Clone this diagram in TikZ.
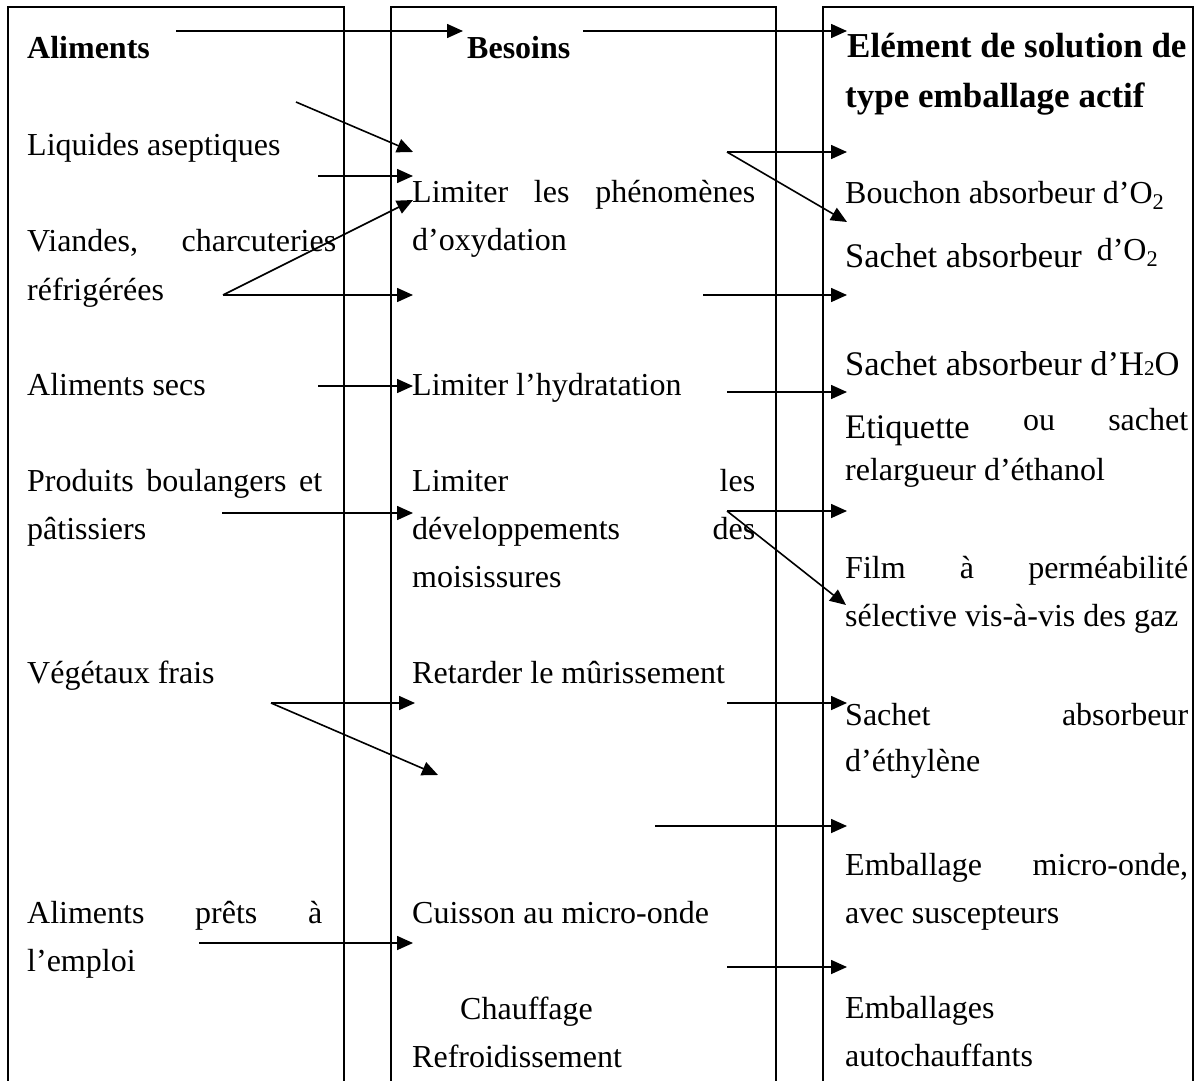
\documentclass[tikz,border=0pt]{standalone}
\usepackage{fontspec}
\setmainfont{Liberation Serif}
\usetikzlibrary{arrows.meta}
\begin{document}
\begin{tikzpicture}[x=1pt,y=-1pt,
  frame/.style={line width=1.8pt},
  link/.style={line width=1.6pt,-{Triangle[length=16pt,width=14pt]}},
  txt/.style={anchor=base west,inner sep=0pt,font=\fontsize{32}{38}\selectfont},
  bigtxt/.style={anchor=base west,inner sep=0pt,font=\fontsize{34.5}{40}\selectfont},
  head/.style={anchor=base west,inner sep=0pt,font=\fontsize{32}{38}\selectfont\bfseries},
  bighead/.style={anchor=base west,inner sep=0pt,font=\fontsize{35}{40}\selectfont\bfseries}]
\useasboundingbox (0,0) rectangle (1202,1081);

% three columns, open at the bottom
\draw[frame] (8,1081) -- (8,7) -- (344,7) -- (344,1081);
\draw[frame] (391,1081) -- (391,7) -- (776,7) -- (776,1081);
\draw[frame] (823,1081) -- (823,7) -- (1193,7) -- (1193,1081);

% column: foods
\node[head] (hAl) at (27,59) {Aliments};
\node[txt] (l1) at (27,155) {Liquides aseptiques};
\node[txt] (l2a) at (27,251) {\hbox to 309pt{Viandes,\hfill charcuteries}};
\node[txt] (l2b) at (27,300) {réfrigérées};
\node[txt] (l3) at (27,395) {Aliments secs};
\node[txt] (l4a) at (27,491) {\hbox to 295pt{Produits\hfill boulangers\hfill et}};
\node[txt] (l4b) at (27,539) {pâtissiers};
\node[txt] (l5) at (27,683) {Végétaux frais};
\node[txt] (l6a) at (27,923) {\hbox to 295pt{Aliments\hfill prêts\hfill à}};
\node[txt] (l6b) at (27,971) {l’emploi};

% column: needs
\node[head] (hBe) at (467,59) {Besoins};
\node[txt] (m1a) at (412,202) {\hbox to 343pt{Limiter\hfill les\hfill phénomènes}};
\node[txt] (m1b) at (412,250) {d’oxydation};
\node[txt] (m2) at (412,395) {Limiter l’hydratation};
\node[txt] (m3a) at (412,491) {\hbox to 343pt{Limiter\hfill les}};
\node[txt] (m3b) at (412,539) {\hbox to 343pt{développements\hfill des}};
\node[txt] (m3c) at (412,587) {moisissures};
\node[txt] (m4) at (412,683) {Retarder le mûrissement};
\node[txt] (m5) at (412,923) {Cuisson au micro-onde};
\node[txt] (m6a) at (460,1019) {Chauffage};
\node[txt] (m6b) at (412,1067) {Refroidissement};

% column: active packaging solutions
\node[bighead] (hEl1) at (847,58) {Elément de solution de};
\node[bighead] (hEl2) at (845,107) {type emballage actif};
\node[txt] (r1) at (845,203) {Bouchon absorbeur d’O\textsubscript{2}};
\node[bigtxt] (r2) at (845,267) {Sachet absorbeur\hspace{15pt}\raisebox{7pt}{\fontsize{32}{38}\selectfont d’O\textsubscript{2}}};
\node[bigtxt] (r3) at (845,375) {Sachet absorbeur d’H{\fontsize{21}{21}\selectfont 2}O};
\node[bigtxt] (r4a) at (845,438) {\hbox to 343pt{Etiquette\hfill\raisebox{8pt}{\fontsize{32}{38}\selectfont ou}\hfill\raisebox{8pt}{\fontsize{32}{38}\selectfont sachet}}};
\node[txt] (r4b) at (845,480) {relargueur d’éthanol};
\node[txt] (r5a) at (845,578) {\hbox to 343pt{Film\hfill à\hfill perméabilité}};
\node[txt] (r5b) at (845,626) {sélective vis-à-vis des gaz};
\node[txt] (r6a) at (845,725) {\hbox to 343pt{Sachet\hfill absorbeur}};
\node[txt] (r6b) at (845,771) {d’éthylène};
\node[txt] (r7a) at (845,875) {\hbox to 343pt{Emballage\hfill micro-onde,}};
\node[txt] (r7b) at (845,923) {avec suscepteurs};
\node[txt] (r8a) at (845,1018) {Emballages};
\node[txt] (r8b) at (845,1066) {autochauffants};

% arrow end points
\coordinate (tA) at (176,31);   \coordinate (tB) at (463,31);
\coordinate (tC) at (583,31);   \coordinate (tD) at (847,31);
\coordinate (s1) at (296,102);  \coordinate (e1) at (413,152);
\coordinate (s2) at (318,176);  \coordinate (e2) at (413,176);
\coordinate (s3) at (223,295);  \coordinate (e3) at (413,200);
\coordinate (e4) at (413,295);
\coordinate (s5) at (318,386);  \coordinate (e5) at (413,386);
\coordinate (s6) at (222,513);  \coordinate (e6) at (413,513);
\coordinate (s7) at (271,703);  \coordinate (e7) at (415,703);
\coordinate (e8) at (438,775);
\coordinate (s9) at (199,943);  \coordinate (e9) at (413,943);
\coordinate (u1) at (727,152);  \coordinate (v1) at (847,152);
\coordinate (v2) at (847,222);
\coordinate (u3) at (703,295);  \coordinate (v3) at (847,295);
\coordinate (u4) at (727,392);  \coordinate (v4) at (847,392);
\coordinate (u5) at (727,511);  \coordinate (v5) at (847,511);
\coordinate (v6) at (846,605);
\coordinate (u7) at (727,703);  \coordinate (v7) at (847,703);
\coordinate (u8) at (655,826);  \coordinate (v8) at (847,826);
\coordinate (u9) at (727,967);  \coordinate (v9) at (847,967);

% header flow
\draw[link] (tA) -- (tB);
\draw[link] (tC) -- (tD);

% foods to needs
\draw[link] (s1) -- (e1);
\draw[link] (s2) -- (e2);
\draw[link] (s3) -- (e3);
\draw[link] (s3) -- (e4);
\draw[link] (s5) -- (e5);
\draw[link] (s6) -- (e6);
\draw[link] (s7) -- (e7);
\draw[link] (s7) -- (e8);
\draw[link] (s9) -- (e9);

% needs to solutions
\draw[link] (u1) -- (v1);
\draw[link] (u1) -- (v2);
\draw[link] (u3) -- (v3);
\draw[link] (u4) -- (v4);
\draw[link] (u5) -- (v5);
\draw[link] (u5) -- (v6);
\draw[link] (u7) -- (v7);
\draw[link] (u8) -- (v8);
\draw[link] (u9) -- (v9);
\end{tikzpicture}
\end{document}
